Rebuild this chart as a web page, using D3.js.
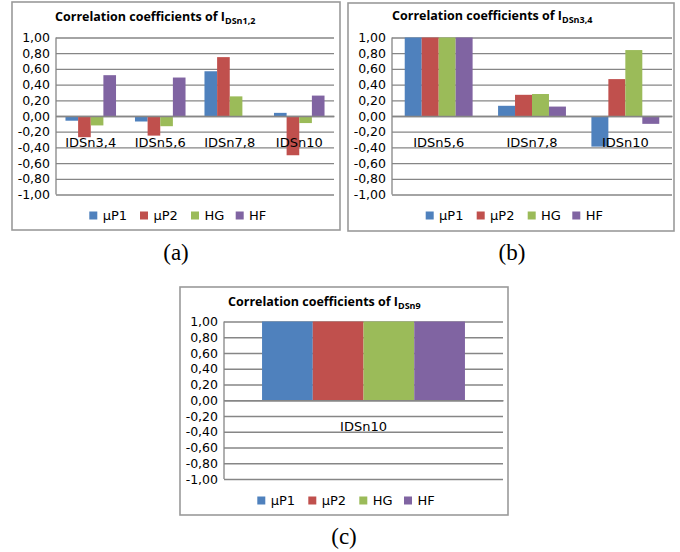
<!DOCTYPE html>
<html><head><meta charset="utf-8">
<script src="https://cdn.jsdelivr.net/npm/d3@7"></script>
<style>
html,body{margin:0;padding:0;background:#fff;}
svg{display:block;}
</style></head>
<body>
<svg id="chart" width="680" height="552"></svg>
<script>
// ---------- data ----------
const seriesNames = ["μP1", "μP2", "HG", "HF"];
const seriesColors = ["#4F81BD", "#C0504D", "#9BBB59", "#8064A2"];
const tickValues = [1, 0.8, 0.6, 0.4, 0.2, 0, -0.2, -0.4, -0.6, -0.8, -1];
const titleMain = "Correlation coefficients of I";

// (a) I_DSn1,2
const titleSubA = "DSn1,2";
const categoriesA = ["IDSn3,4", "IDSn5,6", "IDSn7,8", "IDSn10"];
const muP1A = [-0.06, -0.07, 0.57, 0.04];
const muP2A = [-0.27, -0.25, 0.75, -0.50];
const hgA   = [-0.12, -0.13, 0.25, -0.09];
const hfA   = [0.52, 0.49, 0.00, 0.26];

// (b) I_DSn3,4
const titleSubB = "DSn3,4";
const categoriesB = ["IDSn5,6", "IDSn7,8", "IDSn10"];
const muP1B = [1.00, 0.13, -0.39];
const muP2B = [1.00, 0.27, 0.47];
const hgB   = [1.00, 0.28, 0.84];
const hfB   = [1.00, 0.12, -0.10];

// (c) I_DSn9
const titleSubC = "DSn9";
const categoriesC = ["IDSn10"];
const muP1C = [1.00];
const muP2C = [1.00];
const hgC   = [1.00];
const hfC   = [1.00];

const captions = ["(a)", "(b)", "(c)"];

// ---------- layout ----------
const panels = [
  { cats: categoriesA, vals: [muP1A, muP2A, hgA, hfA], sub: titleSubA, cap: captions[0],
    box: [12, 2, 340, 230], plot: { x0: 56, x1: 334, top: 37.5, bottom: 194.5 },
    title: [55, 21], legSq: [89.3, 140, 191, 235.7], legY: 211.5, capPos: [176, 260] },
  { cats: categoriesB, vals: [muP1B, muP2B, hgB, hfB], sub: titleSubB, cap: captions[1],
    box: [348, 3, 674, 231], plot: { x0: 392, x1: 672, top: 37.5, bottom: 194.5 },
    title: [392, 20], legSq: [425.7, 476.7, 527.7, 572.3], legY: 211.5, capPos: [512, 260] },
  { cats: categoriesC, vals: [muP1C, muP2C, hgC, hfC], sub: titleSubC, cap: captions[2],
    box: [180, 287, 508, 515], plot: { x0: 224, x1: 503, top: 321.5, bottom: 479 },
    title: [228, 306], legSq: [257.3, 308.3, 359.3, 404], legY: 496.5, capPos: [344, 544] }
];

const locale = d3.formatLocale({ decimal: ",", thousands: ".", grouping: [3], currency: ["", ""], minus: "-" });
const fmt = locale.format(".2f");
const svg = d3.select("#chart");
const gridColor = "#868686";
const regFont = "'DejaVu Sans', sans-serif";

panels.forEach(p => {
  const g = svg.append("g");
  // frame
  g.append("rect")
    .attr("x", p.box[0]).attr("y", p.box[1])
    .attr("width", p.box[2] - p.box[0]).attr("height", p.box[3] - p.box[1])
    .attr("fill", "#fff").attr("stroke", "#9a9a9a").attr("stroke-width", 1.6);

  const y = d3.scaleLinear().domain([-1, 1]).range([p.plot.bottom, p.plot.top]);
  const x0 = d3.scaleBand().domain(p.cats).range([p.plot.x0, p.plot.x1])
    .paddingInner(1.5 / 5.5).paddingOuter(0.75 / 5.5);
  const x1 = d3.scaleBand().domain(seriesNames).range([0, x0.bandwidth()]).padding(0);

  // y axis with gridlines
  const yAxis = d3.axisLeft(y).tickValues(tickValues).tickFormat(fmt)
    .tickSize(-(p.plot.x1 - p.plot.x0)).tickPadding(6);
  const ya = g.append("g").attr("transform", `translate(${p.plot.x0},0)`).call(yAxis);
  ya.select(".domain").remove();
  ya.selectAll(".tick line").attr("stroke", gridColor).attr("stroke-width", 1.3);
  ya.selectAll(".tick text").attr("fill", "#000").style("font-family", regFont).style("font-size", "12.5px");

  // vertical axis line
  g.append("line").attr("x1", p.plot.x0).attr("x2", p.plot.x0)
    .attr("y1", y(1)).attr("y2", y(-1)).attr("stroke", gridColor).attr("stroke-width", 1.3);

  // bars
  const rows = p.cats.map((c, i) => ({ cat: c, items: seriesNames.map((s, j) => ({ s, j, v: p.vals[j][i] })) }));
  const grp = g.append("g").selectAll("g").data(rows).join("g")
    .attr("transform", d => `translate(${x0(d.cat)},0)`);
  grp.selectAll("rect").data(d => d.items).join("rect")
    .attr("x", d => x1(d.s)).attr("width", x1.bandwidth())
    .attr("y", d => y(Math.max(0, d.v)))
    .attr("height", d => Math.abs(y(d.v) - y(0)))
    .attr("fill", d => seriesColors[d.j]);

  // category axis at zero
  const xAxis = d3.axisBottom(x0).tickSize(0).tickSizeOuter(0).tickPadding(22);
  const xa = g.append("g").attr("transform", `translate(0,${y(0)})`).call(xAxis);
  xa.select(".domain").attr("stroke", gridColor).attr("stroke-width", 1.3);
  xa.selectAll(".tick text").attr("fill", "#000").style("font-family", regFont).style("font-size", "13px");

  // title
  const t = g.append("text").attr("x", p.title[0]).attr("y", p.title[1])
    .style("font-family", "'Open Sans', sans-serif").style("font-weight", "bold").style("font-size", "12.5px");
  t.append("tspan").text(titleMain);
  t.append("tspan").attr("dy", 3).style("font-size", "9px").text(p.sub);

  // legend
  const leg = g.append("g");
  seriesNames.forEach((s, j) => {
    leg.append("rect").attr("x", p.legSq[j]).attr("y", p.legY).attr("width", 8).attr("height", 8)
      .attr("fill", seriesColors[j]);
    leg.append("text").attr("x", p.legSq[j] + 13.4).attr("y", p.legY + 8.5)
      .style("font-family", regFont).style("font-size", "13px").text(s);
  });

  // caption
  g.append("text").attr("x", p.capPos[0]).attr("y", p.capPos[1]).attr("text-anchor", "middle")
    .style("font-family", "'Liberation Serif', 'Times New Roman', serif").style("font-size", "23px")
    .text(p.cap);
});
</script>
</body></html>
